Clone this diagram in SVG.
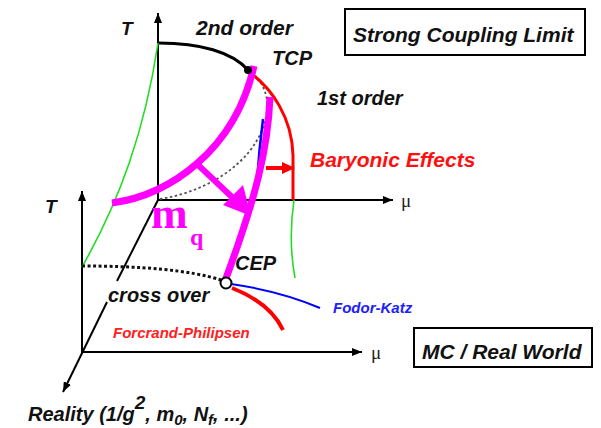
<svg xmlns="http://www.w3.org/2000/svg" width="601" height="428" viewBox="0 0 601 428">
<defs>
<style>
.ax{stroke:#000;stroke-width:2;fill:none}
.lbl{font-family:"Liberation Sans",Arial,sans-serif;font-style:italic;font-weight:bold;fill:#111}
.mu{font-family:"Liberation Serif","Times New Roman",serif;font-size:19px;fill:#222}
.mag{stroke:#ff00ff;stroke-width:7;fill:none;stroke-linecap:butt}
.grn{stroke:#22dd22;stroke-width:1.6;fill:none}
.box{fill:#fff;stroke:#000;stroke-width:2}
</style>
<marker id="ah" viewBox="0 0 10 8" refX="10" refY="4" markerWidth="10" markerHeight="8" markerUnits="userSpaceOnUse" orient="auto">
<path d="M0 0 L10 4 L0 8 Z" fill="#000"/>
</marker>
</defs>
<rect width="601" height="428" fill="#fff"/>

<g id="connectors">
<!-- axes -->
<line class="ax" x1="158" y1="200" x2="158" y2="13" marker-end="url(#ah)"/>
<line class="ax" x1="158" y1="200" x2="393" y2="200" marker-end="url(#ah)"/>
<line class="ax" x1="82" y1="353" x2="82" y2="191" marker-end="url(#ah)"/>
<line class="ax" x1="82" y1="352" x2="362" y2="352" marker-end="url(#ah)"/>
<line class="ax" x1="158" y1="200" x2="117" y2="281"/>
<line class="ax" x1="107" y1="302" x2="63" y2="392" marker-end="url(#ah)"/>

<!-- green surfaces -->
<path class="grn" d="M158 43 C145 130 120 200 82 267"/>
<path class="grn" d="M294 200 Q288 240 295 278"/>

<!-- top plane lines -->
<path d="M159 43 C200 43 232 52 248 70" stroke="#000" stroke-width="3" fill="none"/>
<path d="M160 199 C218 190 270 150 267 100 Q265 87 256 76" stroke="#555" stroke-width="1.8" stroke-dasharray="2.5 2.5" fill="none"/>
<path d="M249 72 C272 88 292 118 293 155 L293 200" stroke="#ff0000" stroke-width="3" fill="none"/>
<line x1="266" y1="168" x2="284" y2="168" stroke="#ff0000" stroke-width="4"/>
<path d="M282 162 L295 168 L282 174 Z" fill="#ff0000"/>
<path d="M263 119 Q259 150 257 182" stroke="#0000ff" stroke-width="2.5" fill="none"/>

<!-- lower plane lines -->
<path d="M82 266 C140 266 190 270 221 280" stroke="#111" stroke-width="3" stroke-dasharray="3 2.5" fill="none"/>
<path d="M231 284 Q280 291 320 308" stroke="#0000ff" stroke-width="2" fill="none"/>
<path d="M232 288 Q270 303 283 330" stroke="#ff0000" stroke-width="4" fill="none"/>

<!-- magenta -->
<path class="mag" d="M112 203 C170 195 235 150 254 66"/>
<path class="mag" d="M270 97 C268 150 255 200 225 281"/>
<line x1="196" y1="163" x2="234" y2="199" stroke="#ff00ff" stroke-width="6"/>
<path d="M251 216 L223 205 L243 185 Z" fill="#ff00ff"/>
</g>

<g id="tcp"><circle cx="248" cy="70" r="4" fill="#000"/></g>
<g id="cep"><circle cx="226" cy="283" r="5.5" fill="#fff" stroke="#000" stroke-width="2"/></g>

<g id="labels">
<text class="lbl" x="121" y="35" font-size="19">T</text>
<text class="lbl" x="196" y="35" font-size="21">2nd order</text>
<text class="lbl" x="272" y="65" font-size="20">TCP</text>
<text class="lbl" x="317" y="105" font-size="20">1st order</text>
<text class="lbl" x="310" y="167" font-size="21" style="fill:#ff1010">Baryonic Effects</text>
<text class="mu" x="401" y="207">μ</text>
<text class="lbl" x="45" y="213" font-size="19">T</text>
<text x="151" y="228" font-family="Liberation Serif,'Times New Roman',serif" font-weight="bold" font-size="44" fill="#ff00ff">m</text>
<text x="190" y="245" font-family="Liberation Serif,'Times New Roman',serif" font-weight="bold" font-size="24" fill="#ff00ff">q</text>
<text class="lbl" x="235" y="270" font-size="20">CEP</text>
<text class="lbl" x="108" y="302" font-size="20">cross over</text>
<text class="lbl" x="333" y="313" font-size="15" style="fill:#2020ff">Fodor-Katz</text>
<text class="lbl" x="113" y="338" font-size="15" style="fill:#ff2020">Forcrand-Philipsen</text>
<text class="mu" x="371" y="359">μ</text>
<text class="lbl" x="28" y="421" font-size="20">Reality (1/g<tspan font-size="19" dy="-12">2</tspan><tspan dy="12">, m</tspan><tspan font-size="15" dy="4">0</tspan><tspan dy="-4">, N</tspan><tspan font-size="15" dy="4">f</tspan><tspan dy="-4">, ...)</tspan></text>
</g>

<g id="strong-coupling">
<rect class="box" x="345" y="9" width="240" height="46"/>
<text class="lbl" x="353" y="42" font-size="21">Strong Coupling Limit</text>
</g>
<g id="mc-real">
<rect class="box" x="414" y="328" width="178" height="39"/>
<text class="lbl" x="422" y="359" font-size="21">MC / Real World</text>
</g>
</svg>
